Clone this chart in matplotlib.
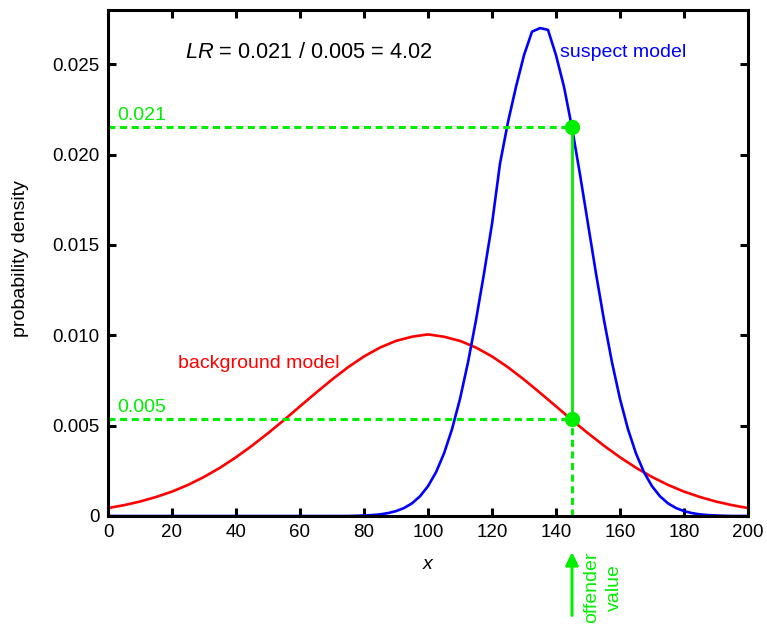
import numpy as np
import matplotlib
matplotlib.use("Agg")
from matplotlib import pyplot as plt

plt.rcParams['font.family'] = ['Liberation Sans', 'DejaVu Sans']
plt.rcParams['mathtext.fontset'] = 'custom'
plt.rcParams['mathtext.rm'] = 'Liberation Sans'
plt.rcParams['mathtext.it'] = 'Liberation Sans:italic'

# ── Data ─────────────────────────────────────────────────────────────────────
background_x = np.arange(0, 205, 5)
background_y = [0.00044, 0.00060, 0.00080, 0.00105, 0.00135, 0.00172, 0.00216,
                0.00267, 0.00325, 0.00389, 0.00458, 0.00531, 0.00607, 0.00682,
                0.00755, 0.00823, 0.00883, 0.00932, 0.00969, 0.00992, 0.01005,
                0.00992, 0.00969, 0.00932, 0.00883, 0.00823, 0.00755, 0.00682,
                0.00607, 0.00531, 0.00458, 0.00389, 0.00325, 0.00267, 0.00216,
                0.00172, 0.00135, 0.00105, 0.00080, 0.00060, 0.00044]

suspect_x = np.arange(0, 202.5, 2.5)
suspect_y = [0.0] * 30 + [
    0.00000, 0.00001, 0.00003, 0.00005, 0.00009, 0.00016, 0.00027, 0.00044,
    0.00070, 0.00109, 0.00165, 0.00242, 0.00346, 0.00480, 0.00648, 0.00850,
    0.01084, 0.01342, 0.01616, 0.01950, 0.02180, 0.02375, 0.02550, 0.02680,
    0.02700, 0.02690, 0.02550, 0.02375, 0.02149, 0.01890, 0.01616, 0.01342,
    0.01084, 0.00850, 0.00648, 0.00480, 0.00346, 0.00242, 0.00165, 0.00109,
    0.00070, 0.00044, 0.00027, 0.00016, 0.00009, 0.00005, 0.00003, 0.00001,
    0.0, 0.0, 0.0]

offender_x = 145
lik_suspect = 0.0215
lik_background = 0.00536

x_ticks = [0, 20, 40, 60, 80, 100, 120, 140, 160, 180, 200]
y_ticks = [0, 0.005, 0.010, 0.015, 0.020, 0.025]
y_ticklabels = ['0', '0.005', '0.010', '0.015', '0.020', '0.025']

GREEN = '#00ee00'
FS = 13.5

# ── Plot ──────────────────────────────────────────────────────────────────────
fig = plt.figure(figsize=(7.67, 6.25), dpi=100)
ax = fig.add_axes([108 / 767, 109 / 625, 640 / 767, 506 / 625])

ax.plot(background_x, background_y, color='red', lw=1.9, zorder=3)
ax.plot(suspect_x, suspect_y, color='blue', lw=1.9, zorder=3)

dash = (0, (2.3, 1.5))
ax.plot([0, offender_x], [lik_suspect, lik_suspect], color=GREEN, lw=2.2, ls=dash, zorder=4)
ax.plot([0, offender_x], [lik_background, lik_background], color=GREEN, lw=2.2, ls=dash, zorder=4)
ax.plot([offender_x, offender_x], [0, lik_background], color=GREEN, lw=2.2, ls=dash, zorder=4)
ax.plot([offender_x, offender_x], [lik_background, lik_suspect], color=GREEN, lw=2.0, zorder=4)
ax.plot([offender_x, offender_x], [lik_suspect, lik_background], 'o', color=GREEN,
        ms=10, zorder=5)

ax.text(2.8, 0.02192, '0.021', color=GREEN, fontsize=14, va='baseline')
ax.text(2.8, 0.00577, '0.005', color=GREEN, fontsize=14, va='baseline')
ax.text(24.0, 0.02537, '$LR$ = 0.021 / 0.005 = 4.02', fontsize=15.7, va='baseline')
ax.text(141.3, 0.02542, 'suspect model', color='blue', fontsize=14, va='baseline')
ax.text(21.8, 0.00819, 'background model', color='red', fontsize=14, va='baseline')

# offender arrow below the axis
ax.annotate('', xy=(offender_x, -0.00200), xytext=(offender_x, -0.00550),
            arrowprops=dict(arrowstyle='-|>', color=GREEN, lw=2.2,
                            mutation_scale=19, shrinkA=0, shrinkB=0),
            annotation_clip=False)
ax.text(154.6, -0.00396, 'offender\nvalue', color=GREEN, fontsize=14,
        rotation=90, ha='center', va='center', multialignment='center',
        linespacing=1.42, clip_on=False)

ax.set_xlim(0, 200)
ax.set_ylim(0, 0.028)
ax.set_xticks(x_ticks)
ax.set_yticks(y_ticks)
ax.set_yticklabels(y_ticklabels)

for sp in ax.spines.values():
    sp.set_linewidth(2.2)
    sp.set_zorder(6)
ax.tick_params(direction='in', length=5.5, width=2.2, labelsize=FS,
               top=True, right=True)
ax.tick_params(axis='x', pad=6)
ax.tick_params(axis='y', pad=6)

ax.set_xlabel('x', fontsize=14, fontstyle='italic', va='center')
ax.xaxis.set_label_coords(0.5, -0.0968)
ax.set_ylabel('probability density', fontsize=14, va='center')
ax.yaxis.set_label_coords(-(108 - 21) / 640, (516 - 259) / 506)

plt.savefig('out.png', dpi=100)
